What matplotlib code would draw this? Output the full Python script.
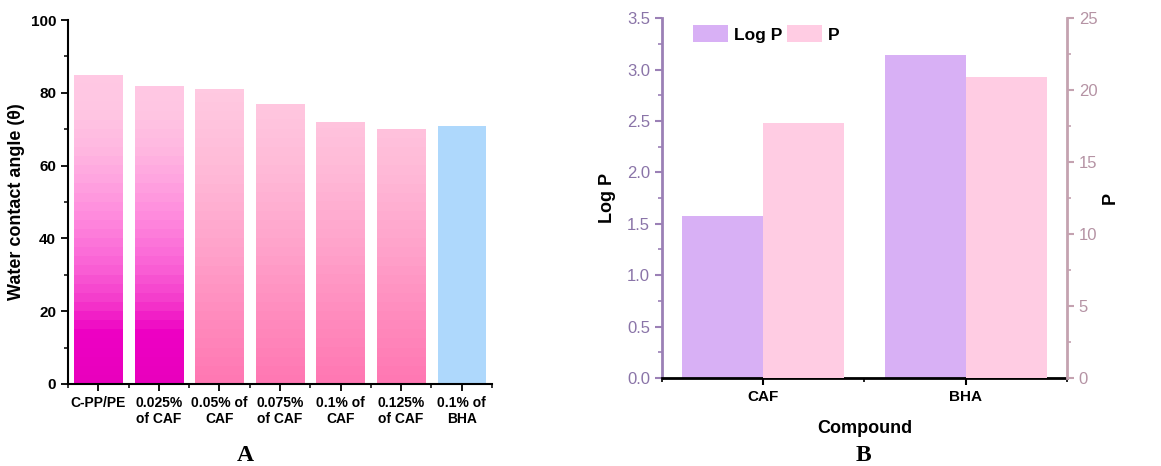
import matplotlib
matplotlib.use("Agg")
import matplotlib.pyplot as plt
import numpy as np
from matplotlib.colors import LinearSegmentedColormap
from matplotlib.patches import Patch
from matplotlib.ticker import MultipleLocator, FixedLocator

plt.rcParams['font.family'] = ['Liberation Sans', 'DejaVu Sans']

# panel A data
samples = ['C-PP/PE', '0.025%\nof CAF', '0.05% of\nCAF', '0.075%\nof CAF',
           '0.1% of\nCAF', '0.125%\nof CAF', '0.1% of\nBHA']
contact_angle = [85, 82, 81, 77, 72, 70, 71]

# panel B data
compounds = ['CAF', 'BHA']
log_p = [1.58, 3.14]
p_vals = [17.7, 20.9]

# gradient stops (fraction of axis height, colour) for the bars in panel A
magenta = [(0.0, '#e800bd'), (0.13, '#ee00c4'), (0.22, '#f43acb'), (0.32, '#fa62d6'),
           (0.45, '#ff88dd'), (0.55, '#ffa2e0'), (0.65, '#ffb8e1'), (0.75, '#ffc6e3'),
           (1.0, '#ffcde4')]
soft = [(0.0, '#ff78b3'), (0.2, '#ff8ebf'), (0.4, '#ffa6cd'), (0.6, '#ffbbd8'),
        (0.8, '#ffc9e1'), (1.0, '#ffcee4')]
grad_colors = [magenta, magenta, soft, soft, soft, soft, None]
blue = '#aed8fc'

fig = plt.figure(figsize=(11.61, 4.66), dpi=100)

# ---------- panel A ----------
axA = fig.add_axes([0.0586, 0.176, 0.3652, 0.781])
x = np.arange(len(samples))
bars = axA.bar(x, contact_angle, width=0.8, color='none', edgecolor='none')
for b, stops in zip(bars, grad_colors):
    if stops is None:
        b.set_facecolor(blue)
        continue
    cmap = LinearSegmentedColormap.from_list('g', stops, N=40)
    grad = np.linspace(0, 1, 400).reshape(-1, 1)
    x0 = b.get_x()
    # gradient spans the whole axis height, clipped to the bar
    im = axA.imshow(grad, cmap=cmap, aspect='auto', origin='lower',
                    extent=[x0, x0 + b.get_width(), 0, 100],
                    interpolation='nearest', zorder=2)
    im.set_clip_path(b)

axA.set_xlim(-0.5, 6.5)
axA.set_ylim(0, 100)
axA.set_xticks(x)
axA.set_xticklabels(samples, fontsize=10, fontweight='bold')
axA.xaxis.set_minor_locator(FixedLocator(np.arange(-0.5, 7, 1)))
axA.yaxis.set_major_locator(MultipleLocator(20))
axA.yaxis.set_minor_locator(MultipleLocator(10))
for lab in axA.get_yticklabels():
    lab.set_fontweight('bold')
    lab.set_fontsize(11)
axA.spines['top'].set_visible(False)
axA.spines['right'].set_visible(False)
axA.spines['left'].set_linewidth(1.5)
axA.spines['bottom'].set_linewidth(1.5)
axA.tick_params(axis='both', which='major', length=5, width=1.3)
axA.tick_params(axis='both', which='minor', length=3, width=1.1)
axA.set_ylabel('Water contact angle (θ)', fontsize=13, fontweight='bold', labelpad=4)

fig.text(0.211, 0.022, 'A', fontsize=17, fontweight='bold',
         family='Liberation Serif', ha='center', va='center')

# ---------- panel B ----------
left_col = '#9b80b6'
left_txt = '#8a74a8'
right_col = '#c4a2b0'
right_txt = '#b593a4'
lav = '#d8b0f5'
pink = '#ffcce3'

axB = fig.add_axes([0.570, 0.189, 0.349, 0.772])
xb = np.arange(len(compounds))
axB.bar(xb - 0.2, log_p, width=0.4, color=lav)
axB.set_xlim(-0.5, 1.5)
axB.set_ylim(0, 3.5)
axB.yaxis.set_major_locator(MultipleLocator(0.5))
axB.yaxis.set_minor_locator(MultipleLocator(0.25))
axB.set_xticks(xb)
axB.set_xticklabels(compounds, fontsize=11, fontweight='bold')
axB.xaxis.set_minor_locator(FixedLocator([-0.5, 0.5, 1.5]))
axB.spines['top'].set_visible(False)
axB.spines['right'].set_visible(False)
axB.spines['left'].set_color(left_col)
axB.spines['left'].set_linewidth(2)
axB.spines['bottom'].set_linewidth(2)
axB.tick_params(axis='y', which='both', colors=left_col, labelcolor=left_txt, labelsize=12)
axB.tick_params(axis='y', which='major', length=5, width=1.5)
axB.tick_params(axis='y', which='minor', length=3, width=1.2)
axB.tick_params(axis='x', which='major', length=5, width=1.5)
axB.tick_params(axis='x', which='minor', length=3, width=1.2)
axB.set_ylabel('Log P', fontsize=13, fontweight='bold', labelpad=8)
axB.set_xlabel('Compound', fontsize=13, fontweight='bold', labelpad=12)

axB2 = axB.twinx()
axB2.bar(xb + 0.2, p_vals, width=0.4, color=pink)
axB2.set_ylim(0, 25)
axB2.yaxis.set_major_locator(MultipleLocator(5))
axB2.yaxis.set_minor_locator(MultipleLocator(2.5))
axB2.spines['top'].set_visible(False)
axB2.spines['left'].set_visible(False)
axB2.spines['bottom'].set_visible(False)
axB2.spines['right'].set_color(right_col)
axB2.spines['right'].set_linewidth(2)
axB2.tick_params(axis='y', which='both', colors=right_col, labelcolor=right_txt, labelsize=12)
axB2.tick_params(axis='y', which='major', length=5, width=1.5)
axB2.tick_params(axis='y', which='minor', length=3, width=1.2)
axB2.set_ylabel('P', fontsize=13, fontweight='bold', labelpad=3)

handles = [Patch(facecolor=lav, edgecolor='none'), Patch(facecolor=pink, edgecolor='none')]
axB2.legend(handles, ['Log P', 'P'], ncol=2, loc='upper left',
            bbox_to_anchor=(0.06, 1.0), frameon=False, borderaxespad=0,
            prop={'weight': 'bold', 'size': 12.5}, handlelength=2.0,
            handleheight=1.15, handletextpad=0.35, columnspacing=0.3)

fig.text(0.744, 0.022, 'B', fontsize=17, fontweight='bold',
         family='Liberation Serif', ha='center', va='center')

fig.savefig('out.png', dpi=100)
